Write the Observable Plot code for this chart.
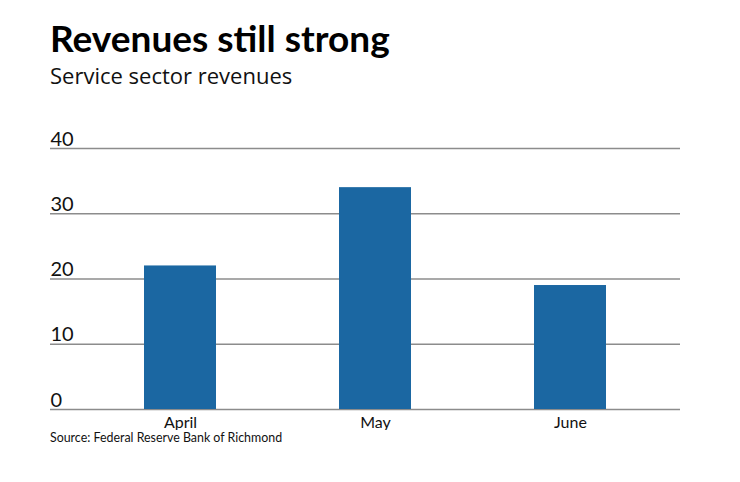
<!DOCTYPE html>
<html>
<head>
<meta charset="utf-8">
<script src="https://cdn.jsdelivr.net/npm/d3@7"></script>
<script src="https://cdn.jsdelivr.net/npm/@observablehq/plot@0.6"></script>
<style>
  body { margin: 0; background: #fff; font-family: Lato, "Open Sans", sans-serif; }
  #wrap { position: relative; width: 740px; height: 482px; }
  #title { position: absolute; left: 50px; top: 19px; font-size: 37px; font-weight: 700; color: #000; line-height: 1; }
  #subtitle { position: absolute; left: 50px; top: 64px; font-size: 22px; color: #111; line-height: 1; font-family: "Open Sans", sans-serif; }
  #chart { position: absolute; left: 0; top: 100px; }
  #source { position: absolute; left: 50px; top: 432px; font-size: 12.4px; color: #111; line-height: 1; }
</style>
</head>
<body>
<div id="wrap">
  <div id="title">Revenues still strong</div>
  <div id="subtitle">Service sector revenues</div>
  <div id="chart"></div>
  <div id="source">Source: Federal Reserve Bank of Richmond</div>
</div>
<script>
const months = ["April", "May", "June"];
const revenues = [22, 34, 19];
const yTicks = [0, 10, 20, 30, 40];

const data = months.map((m, i) => ({month: m, value: revenues[i]}));

const chart = Plot.plot({
  width: 740,
  height: 330,
  marginLeft: 50,
  marginRight: 60,
  marginTop: 48,
  marginBottom: 21,
  style: {fontFamily: "Lato, 'Open Sans', sans-serif", background: "#fff"},
  x: {domain: months, range: [50, 700], paddingInner: 0.63, paddingOuter: 0.48, label: null},
  y: {domain: [0, 40], label: null, axis: null},
  marks: [
    Plot.ruleY(yTicks, {stroke: "#8c8c8c", strokeWidth: 1.5}),
    Plot.barY(data, {x: "month", y: "value", fill: "#1b67a2"}),
    Plot.text(yTicks, {y: d => d, text: d => String(d), frameAnchor: "left", textAnchor: "start", lineAnchor: "bottom", dy: -3, fontSize: 20, fill: "#111"}),
    Plot.axisX({tickSize: 0, tickPadding: 7, fontSize: 16, label: null, fill: "#111"})
  ]
});
document.getElementById("chart").appendChild(chart);
</script>
</body>
</html>
